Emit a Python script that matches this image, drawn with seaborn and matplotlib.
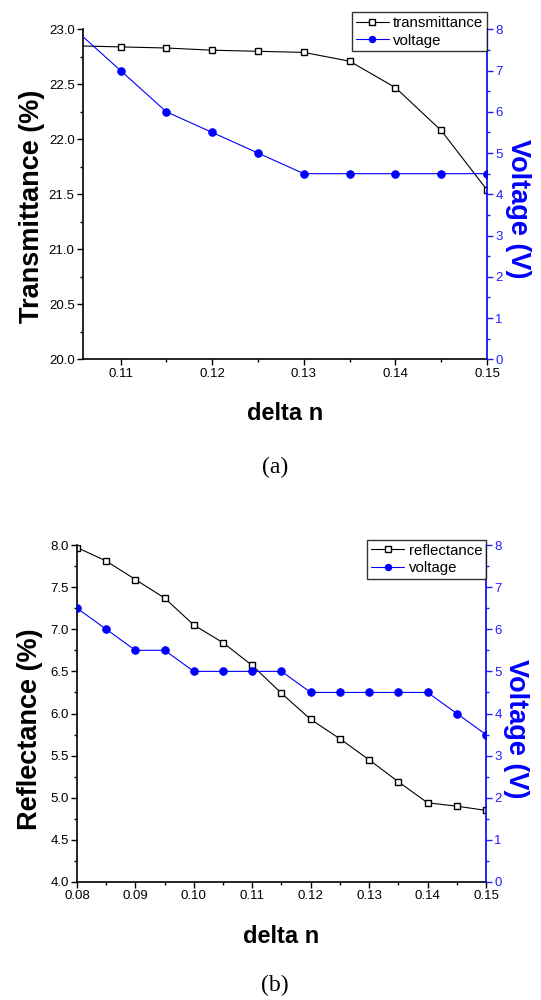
import numpy as np
import matplotlib
matplotlib.use("Agg")
import matplotlib.pyplot as plt
import seaborn as sns
from matplotlib.ticker import MultipleLocator, FormatStrFormatter

# Data
dn_a = [0.105, 0.11, 0.115, 0.12, 0.125, 0.13, 0.135, 0.14, 0.145, 0.15]
trans = [22.85, 22.84, 22.83, 22.81, 22.80, 22.79, 22.71, 22.47, 22.08, 21.54]
volt_a = [8.0, 7.0, 6.0, 5.5, 5.0, 4.5, 4.5, 4.5, 4.5, 4.5]

dn_b = [0.08, 0.085, 0.09, 0.095, 0.10, 0.105, 0.11, 0.115, 0.12, 0.125,
        0.13, 0.135, 0.14, 0.145, 0.15]
refl = [7.97, 7.81, 7.59, 7.37, 7.05, 6.84, 6.57, 6.24, 5.93, 5.70,
        5.45, 5.19, 4.94, 4.90, 4.85]
volt_b = [6.5, 6.0, 5.5, 5.5, 5.0, 5.0, 5.0, 5.0, 4.5, 4.5,
          4.5, 4.5, 4.5, 4.0, 3.5]

sns.set_style("ticks")
plt.rcParams['font.family'] = ['Liberation Sans', 'DejaVu Sans']
plt.rcParams['text.color'] = 'black'
plt.rcParams['axes.labelcolor'] = 'black'
plt.rcParams['xtick.color'] = 'black'
plt.rcParams['ytick.color'] = 'black'
plt.rcParams['axes.edgecolor'] = 'black'

fig = plt.figure(figsize=(5.41, 10), dpi=100)
ax_a = fig.add_axes([0.1534, 0.6407, 0.7468, 0.330])
ax_b = fig.add_axes([0.1423, 0.118, 0.756, 0.337])


def panel(ax, x, y, v, name, ylab, xlim, ylim, legy, lx, ly, rx, ry):
    sns.lineplot(x=x, y=y, ax=ax, color="black", lw=0.8, marker="s", ms=4.8,
                 markerfacecolor="white", markeredgecolor="black",
                 markeredgewidth=1.0, label=name, legend=False)
    ax2 = ax.twinx()
    sns.lineplot(x=x, y=v, ax=ax2, color="blue", lw=0.8, marker="o", ms=5.4,
                 markeredgecolor="blue", label="voltage", legend=False)
    ax.set_xlim(*xlim)
    ax.set_ylim(*ylim)
    ax2.set_ylim(0, 8)
    ax.xaxis.set_major_locator(MultipleLocator(0.01))
    ax.xaxis.set_minor_locator(MultipleLocator(0.005))
    ax.xaxis.set_major_formatter(FormatStrFormatter("%.2f"))
    ax.yaxis.set_major_locator(MultipleLocator(0.5))
    ax.yaxis.set_minor_locator(MultipleLocator(0.25))
    ax.yaxis.set_major_formatter(FormatStrFormatter("%.1f"))
    ax2.yaxis.set_major_locator(MultipleLocator(1))
    ax2.yaxis.set_minor_locator(MultipleLocator(0.5))
    for a in (ax, ax2):
        a.spines["top"].set_visible(False)
        a.tick_params(which="major", length=4, width=1, labelsize=9.5, pad=2)
        a.tick_params(which="minor", length=2.5, width=1)
    ax.spines["left"].set_linewidth(1.2)
    ax.spines["bottom"].set_linewidth(1.2)
    ax.spines["right"].set_visible(False)
    ax2.spines["left"].set_visible(False)
    ax2.spines["bottom"].set_visible(False)
    ax2.spines["right"].set_color("blue")
    ax2.spines["right"].set_linewidth(1.2)
    ax2.tick_params(axis="y", which="both", colors="#2020ff")
    ax.set_xlabel("delta n", fontsize=17, fontweight="bold", labelpad=16)
    ax.set_ylabel(ylab, fontsize=19.5, fontweight="bold")
    ax.yaxis.set_label_coords(lx, ly)
    ax2.set_ylabel("Voltage (V)", fontsize=19.5, fontweight="bold",
                   color="blue", rotation=270)
    ax2.yaxis.set_label_coords(rx, ry)
    h1, l1 = ax.get_legend_handles_labels()
    h2, l2 = ax2.get_legend_handles_labels()
    leg = ax2.legend(h1 + h2, l1 + l2, loc="upper right",
                     bbox_to_anchor=(1.0, legy), fontsize=10.8, frameon=True,
                     fancybox=False, edgecolor="black", borderaxespad=0,
                     handlelength=2.2, handletextpad=0.3, borderpad=0.25,
                     labelspacing=0.25, markerscale=0.85)
    leg.get_frame().set_linewidth(1.0)


panel(ax_a, dn_a, trans, volt_a, "transmittance", "Transmittance (%)",
      (0.1059, 0.15), (20.0, 23.0), 1.052, -0.094, 0.463, 1.11, 0.455)
panel(ax_b, dn_b, refl, volt_b, "reflectance", "Reflectance (%)",
      (0.08, 0.15), (4.0, 8.0), 1.015, -0.083, 0.454, 1.106, 0.455)

fig.text(0.508, 0.533, "(a)", ha="center", va="center", fontsize=17,
         family=["Liberation Serif", "DejaVu Serif"])
fig.text(0.508, 0.015, "(b)", ha="center", va="center", fontsize=17,
         family=["Liberation Serif", "DejaVu Serif"])

fig.savefig("out.png", dpi=100)
